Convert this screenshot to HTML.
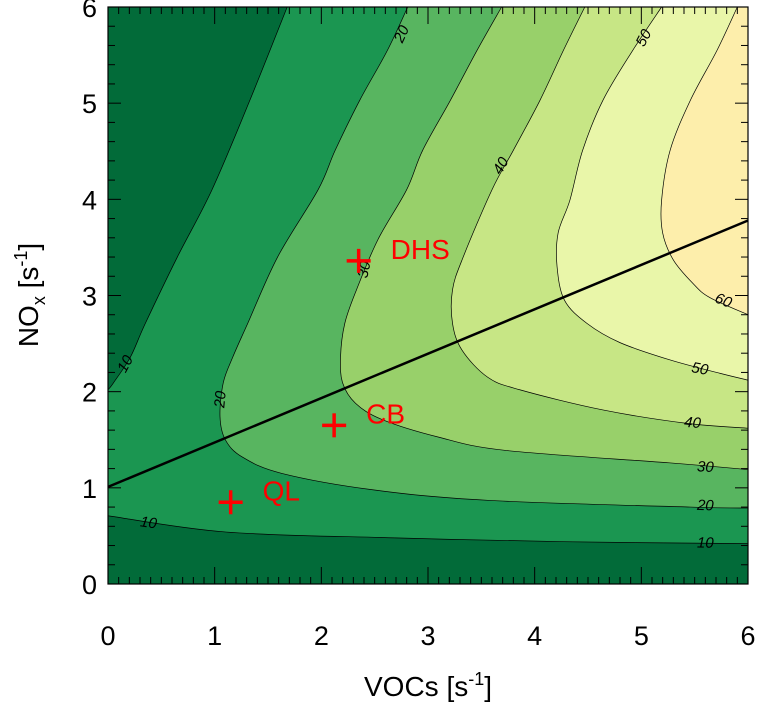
<!DOCTYPE html>
<html><head><meta charset="utf-8"><style>
html,body{margin:0;padding:0;background:#fff;}
svg text{font-family:"Liberation Sans",sans-serif;}
</style></head><body>
<svg id="chart" width="765" height="706" viewBox="0 0 765 706" xmlns="http://www.w3.org/2000/svg">
<g id="fills"></g>
<g id="lines"></g>
<g id="labels"></g>
<g id="ticks"></g>
<g id="overlay"></g>
<text x="428" y="696" font-size="28" text-anchor="middle">VOCs [s<tspan dy="-11" font-size="18">-1</tspan><tspan dy="11">]</tspan></text>
<text transform="translate(38,295) rotate(-90)" font-size="28" text-anchor="middle">NO<tspan dy="7" font-size="18">x</tspan><tspan dy="-7"> [s</tspan><tspan dy="-11" font-size="18">-1</tspan><tspan dy="11">]</tspan></text>
</svg>
<script>
// ---- data ----
const xTicks = [0,1,2,3,4,5,6];
const yTicks = [0,1,2,3,4,5,6];
const levels = [10,20,30,40,50,60];
const colors = ['#026b39','#1b9651','#58b560','#98d06a','#c7e685','#e9f6a9','#fdeeab'];
const c10a = [[1.68,6.0],[1.33,5.03],[0.975,4.10],[0.65,3.40],[0.35,2.71],[0.21,2.36],[0.05,2.09],[0,2.02]];
const c10b = [[0,0.71],[1.11,0.54],[2.69,0.48],[4.27,0.44],[6,0.42]];
const c20 = [[2.81,6.0],[2.62,5.55],[2.36,5.03],[2.13,4.51],[1.97,4.10],[1.59,3.40],[1.31,2.71],[1.17,2.36],[1.08,2.09],[1.05,1.74],[1.10,1.50],[1.26,1.32],[1.63,1.15],[2.48,0.98],[3.56,0.87],[5.46,0.80],[6,0.79]];
const c30 = [[3.69,6.0],[3.46,5.55],[3.21,5.03],[2.95,4.51],[2.80,4.10],[2.53,3.58],[2.33,3.06],[2.22,2.71],[2.18,2.36],[2.20,2.09],[2.32,1.88],[2.57,1.71],[3.09,1.53],[3.72,1.39],[5.26,1.26],[6,1.19]];
const c40 = [[4.47,6.0],[4.27,5.55],[4.05,5.03],[3.80,4.51],[3.60,4.10],[3.33,3.40],[3.23,3.06],[3.23,2.71],[3.32,2.43],[3.56,2.15],[3.86,2.02],[4.64,1.81],[5.43,1.67],[6,1.62]];
const c50 = [[5.19,6.0],[4.92,5.55],[4.64,5.03],[4.45,4.51],[4.33,3.99],[4.22,3.65],[4.21,3.30],[4.28,2.95],[4.49,2.71],[4.80,2.51],[5.27,2.33],[5.74,2.19],[6,2.12]];
const c60 = [[5.90,6.0],[5.71,5.55],[5.46,5.03],[5.27,4.51],[5.19,3.99],[5.20,3.65],[5.30,3.37],[5.48,3.13],[5.64,2.98],[6,2.80]];
const lineX = [0,6];
const lineY = [1.01,3.78];
const siteNames = ['DHS','CB','QL'];
const siteVOC = [2.35,2.12,1.15];
const siteNOx = [3.36,1.65,0.85];
const labelText = ['20','50','40','30','10','20','60','50','40','30','20','10','10'];
const labelX = [2.75,5.02,3.68,2.40,0.16,1.05,5.77,5.55,5.48,5.60,5.60,5.60,0.38];
const labelY = [5.72,5.68,4.35,3.27,2.29,1.92,2.95,2.24,1.68,1.22,0.82,0.43,0.64];
const labelAng = [-65,-62,-60,-78,-62,-85,22,10,5,3,2,1,8];

// ---- axes ----
const X0=108,X1=748,Y0=584,Y1=7;
const sx = v => X0 + (X1-X0)*v/6;
const sy = v => Y0 - (Y0-Y1)*v/6;
const NS='http://www.w3.org/2000/svg';
function mk(tag,parent,attrs){const e=document.createElementNS(NS,tag);for(const k in attrs)e.setAttribute(k,attrs[k]);parent.appendChild(e);return e;}
function smooth(pts){
  const p=pts.map(q=>[sx(q[0]),sy(q[1])]);
  let d='M'+p[0][0]+','+p[0][1];
  for(let i=0;i<p.length-1;i++){
    const a=p[Math.max(i-1,0)],b=p[i],c=p[i+1],e=p[Math.min(i+2,p.length-1)];
    const c1=[b[0]+(c[0]-a[0])/6,b[1]+(c[1]-a[1])/6],c2=[c[0]-(e[0]-b[0])/6,c[1]-(e[1]-b[1])/6];
    d+=' C'+c1[0]+','+c1[1]+' '+c2[0]+','+c2[1]+' '+c[0]+','+c[1];
  }
  return d;
}
function seg(pts){return smooth(pts).replace(/^M[^ ]+/,'L'+sx(pts[0][0])+','+sy(pts[0][1]));}
const fills=document.getElementById('fills'),lines=document.getElementById('lines');
let bg=mk('rect',fills,{x:X0,y:Y1,width:X1-X0,height:Y0-Y1,fill:colors[0]});


const TR=' L'+sx(6)+','+sy(6)+' Z';
let f=mk('path',fills,{d:smooth(c10a)+' '+seg(c10b)+TR,fill:colors[1]});


const curves=[c20,c30,c40,c50,c60];
curves.forEach((c,i)=>{
  const p=mk('path',fills,{d:smooth(c)+TR,fill:colors[i+2]});
  
  
});
[c10a,c10b].concat(curves).forEach((c,i)=>{
  const p=mk('path',lines,{d:smooth(c),fill:'none',stroke:'#000','stroke-width':0.7});
  
  
});
const labels=document.getElementById('labels');
labelText.forEach((t,i)=>{
  const x=sx(labelX[i]),y=sy(labelY[i]);
  const e=mk('text',labels,{x:x,y:y+5,'font-size':15,'font-style':'italic','text-anchor':'middle',transform:'rotate('+labelAng[i]+' '+x+' '+y+')'});
  e.textContent=t;
  
  
});
const tk=document.getElementById('ticks');
let fr=mk('rect',tk,{x:X0,y:Y1,width:X1-X0,height:Y0-Y1,fill:'none',stroke:'#000','stroke-width':1.2});


for(let i=0;i<=60;i++){const v=i/10,x=sx(v),L=(i%10==0)?17:7;
  mk('line',tk,{x1:x,y1:Y0,x2:x,y2:Y0-L,stroke:'#000','stroke-width':1});
  mk('line',tk,{x1:x,y1:Y1,x2:x,y2:Y1+L,stroke:'#000','stroke-width':1});}
for(let i=0;i<=30;i++){const v=i/5,y=sy(v),L=(i%5==0)?13:7;
  mk('line',tk,{x1:X0,y1:y,x2:X0+L,y2:y,stroke:'#000','stroke-width':1});
  mk('line',tk,{x1:X1,y1:y,x2:X1-L,y2:y,stroke:'#000','stroke-width':1});}
xTicks.forEach(v=>{const e=mk('text',tk,{x:sx(v),y:645,'font-size':27,'text-anchor':'middle'});e.textContent=v;
  
  });
yTicks.forEach(v=>{const e=mk('text',tk,{x:97,y:sy(v)+10,'font-size':27,'text-anchor':'end'});e.textContent=v;
  
  });
const ov=document.getElementById('overlay');
let ln=mk('line',ov,{x1:sx(lineX[0]),y1:sy(lineY[0]),x2:sx(lineX[1]),y2:sy(lineY[1]),stroke:'#000','stroke-width':2.5});


siteNames.forEach((n,i)=>{
  const x=sx(siteVOC[i]),y=sy(siteNOx[i]);
  const g=mk('g',ov,{});
  
  
  mk('line',g,{x1:x-12,y1:y,x2:x+12,y2:y,stroke:'#f00','stroke-width':3.5});
  mk('line',g,{x1:x,y1:y-12,x2:x,y2:y+12,stroke:'#f00','stroke-width':3.5});
  const t=mk('text',g,{x:x+32,y:y-2,'font-size':28,fill:'#f00'});t.textContent=n;
});
</script>
</body></html>
